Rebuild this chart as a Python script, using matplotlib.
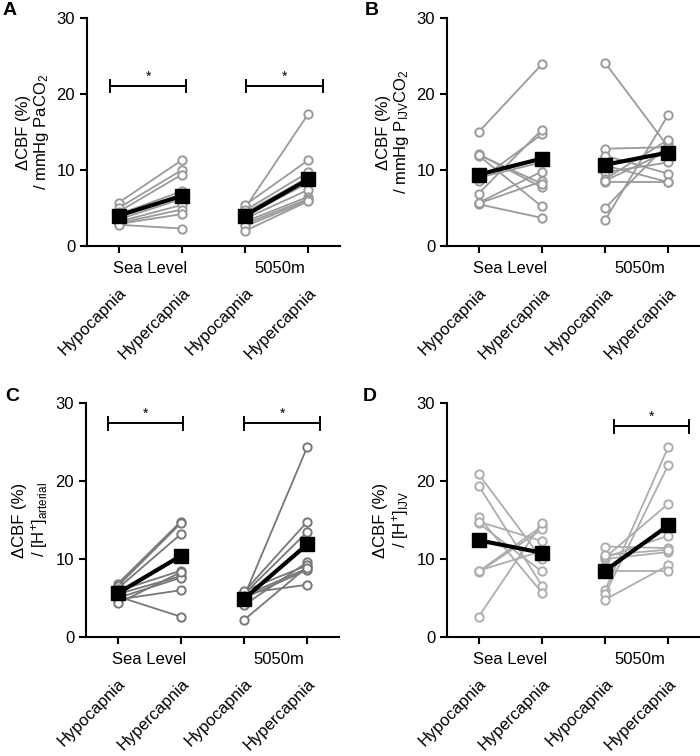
#four panels of paired CBF reactivity, sea level vs 5050m, hypo vs hypercapnia

import numpy as np
import matplotlib
matplotlib.use('Agg')
import matplotlib.pyplot as plt

plt.rcParams['font.family']=['Liberation Sans','DejaVu Sans']
plt.rcParams['mathtext.fontset']='custom'
plt.rcParams['mathtext.rm']='Liberation Sans'
plt.rcParams['mathtext.it']='Liberation Sans:italic'

conditions=['Hypocapnia','Hypercapnia','Hypocapnia','Hypercapnia']
groups=['Sea Level','5050m']

#individual subjects: (hypo, hyper) at sea level then at 5050m
A_sl_hypo=[5.7,5.0,4.5,4.2,3.8,3.5,3.2,3.0,2.9,2.8]
A_sl_hyper=[11.3,10.0,9.4,7.2,6.8,6.2,5.4,4.8,4.2,2.3]
A_hi_hypo=[5.0,5.4,4.7,4.4,4.0,3.6,3.2,2.9,2.6,2.0]
A_hi_hyper=[17.4,11.3,9.7,9.0,8.3,7.4,6.5,6.2,6.0,5.9]
A_means=[4.0,6.6,4.0,8.8]

B_sl_hypo=[15.0,12.1,11.9,8.6,6.9,5.7,5.5,5.6,9.0,12.0]
B_sl_hyper=[23.9,7.7,5.2,14.7,15.3,9.8,3.7,8.5,11.0,8.2]
B_hi_hypo=[24.1,3.4,5.0,12.8,11.9,10.6,9.7,8.8,8.4,8.6]
B_hi_hyper=[13.0,17.3,13.5,13.0,9.5,8.4,11.0,14.0,8.4,12.5]
B_means=[9.4,11.5,10.7,12.3]

C_sl_hypo=[6.8,6.5,6.2,5.9,5.5,5.0,4.8,5.2,4.3]
C_sl_hyper=[14.8,14.6,13.2,8.5,7.8,7.6,6.0,2.6,8.3]
C_hi_hypo=[5.2,5.8,5.5,4.1,2.2,5.0,5.6,5.9,5.3]
C_hi_hyper=[24.4,14.8,13.5,9.6,9.0,8.6,6.7,9.2,8.8]
C_means=[5.6,10.4,4.9,11.9]

D_sl_hypo=[20.9,19.4,15.4,14.6,8.4,8.3,2.6,14.8,8.5]
D_sl_hyper=[10.0,6.6,5.7,8.4,14.2,13.8,14.6,12.3,11.0]
D_hi_hypo=[6.0,5.5,10.2,4.8,11.6,10.0,8.5,10.2,10.5]
D_hi_hyper=[24.4,22.1,17.1,9.2,11.4,10.9,8.5,13.0,11.2]
D_means=[12.4,10.8,8.5,14.3]

#significance bars: (x start, x end, height) in data units
A_sig=[(-0.13,1.07,21.0),(2.01,3.23,21.0)]
B_sig=[]
C_sig=[(-0.16,1.03,27.4),(2.0,3.2,27.4)]
D_sig=[(2.14,3.33,27.0)]

ylabels=['\u0394CBF (%)\n/ mmHg PaCO$_\\mathregular{2}$',
         '\u0394CBF (%)\n/ mmHg P$_\\mathregular{IJV}$CO$_\\mathregular{2}$',
         '\u0394CBF (%)\n/ [H$^\\mathregular{+}$]$_\\mathregular{arterial}$',
         '\u0394CBF (%)\n/ [H$^\\mathregular{+}$]$_\\mathregular{IJV}$']

panels=[('A',A_sl_hypo,A_sl_hyper,A_hi_hypo,A_hi_hyper,A_means,A_sig,'#9a9a9a'),
        ('B',B_sl_hypo,B_sl_hyper,B_hi_hypo,B_hi_hyper,B_means,B_sig,'#9a9a9a'),
        ('C',C_sl_hypo,C_sl_hyper,C_hi_hypo,C_hi_hyper,C_means,C_sig,'#777777'),
        ('D',D_sl_hypo,D_sl_hyper,D_hi_hypo,D_hi_hyper,D_means,D_sig,'#adadad')]

W,H=700.,756.
#axes boxes in pixels: left, bottom(y of zero line), right, top(y of 30)
boxes=[(87,246,340,18),(447,246,700,18),(86,637,339,403),(447,637,700,403)]
letter_pos=[(3,2),(365,2),(5,388),(363,388)]

fs=12

fig=plt.figure(figsize=(7,7.56),dpi=100)

for (letter,sl_hypo,sl_hyper,hi_hypo,hi_hyper,means,sig,grey),box,ylabel,lp in zip(panels,boxes,ylabels,letter_pos):
    l,b,r,t=box
    ax=fig.add_axes([l/W,1-b/H,(r-l)/W,(b-t)/H])

    for x0,pre,post in [(0,sl_hypo,sl_hyper),(2,hi_hypo,hi_hyper)]:
        for y1,y2 in zip(pre,post):
            ax.plot([x0,x0+1],[y1,y2],'-',color=grey,lw=1.3,zorder=2,
                    marker='o',ms=6,mfc='white',mec=grey,mew=1.4)
    ax.plot([0,1],means[0:2],'-',color='k',lw=3,marker='s',ms=10,zorder=5)
    ax.plot([2,3],means[2:4],'-',color='k',lw=3,marker='s',ms=10,zorder=5)

    for xs,xe,yb in sig:
        ax.plot([xs,xe],[yb,yb],'k-',lw=1.4)
        ax.plot([xs,xs],[yb-0.8,yb+0.8],'k-',lw=1.4)
        ax.plot([xe,xe],[yb-0.8,yb+0.8],'k-',lw=1.4)
        ax.text((xs+xe)/2.,yb+0.3,'*',ha='center',va='bottom',fontsize=10)

    ax.set_xlim(-0.5,3.5)
    ax.set_ylim(0,30)
    ax.set_yticks([0,10,20,30])
    ax.set_xticks([0,1,2,3])
    ax.set_xticklabels([])
    for s in ['top','right']:
        ax.spines[s].set_visible(False)
    for s in ['left','bottom']:
        ax.spines[s].set_linewidth(1.5)
    ax.tick_params(width=1.5,length=5,labelsize=fs,colors='k')
    ax.set_ylabel(ylabel,fontsize=fs,linespacing=1.1,labelpad=4)

    for i,c in enumerate(conditions):
        ax.annotate(c,xy=(i,0),xycoords=('data','axes fraction'),xytext=(4,-32),
                    textcoords='offset points',rotation=45,ha='right',va='center',
                    rotation_mode='anchor',fontsize=fs,annotation_clip=False)
    for gx,g in zip([0.5,2.55],groups):
        ax.annotate(g,xy=(gx,0),xycoords=('data','axes fraction'),xytext=(0,-16.5),
                    textcoords='offset points',ha='center',va='center',fontsize=fs,
                    annotation_clip=False)

    fig.text(lp[0]/W,1-lp[1]/H,letter,fontsize=14,fontweight='bold',ha='left',va='top')

fig.savefig('out.png',dpi=100)
